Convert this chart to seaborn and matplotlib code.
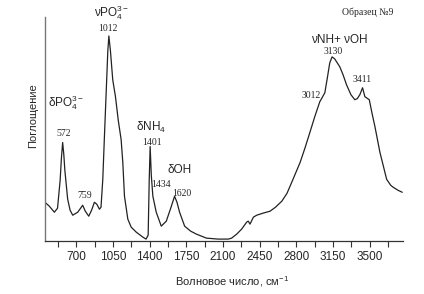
import numpy as np
import pandas as pd
import seaborn as sns
import matplotlib.pyplot as plt
from matplotlib.ticker import MultipleLocator

# IR spectrum (wavenumber, cm-1 / absorbance, arb. units)
wavenumber = [400, 442, 490, 520, 545, 557, 569, 580, 590, 617, 640, 665, 713,
              740, 760, 785, 818, 845, 872, 895, 920, 935, 952, 968, 985, 1000,
              1010, 1025, 1047, 1073, 1100, 1127, 1143, 1159, 1191, 1223, 1271,
              1334, 1365, 1385, 1395, 1404, 1415, 1430, 1462, 1510, 1558, 1600,
              1637, 1660, 1685, 1733, 1790, 1845, 1940, 2050, 2150, 2182, 2230,
              2277, 2325, 2340, 2357, 2389, 2421, 2480, 2548, 2600, 2660, 2710,
              2755, 2835, 2880, 2928, 2975, 3023, 3045, 3071, 3095, 3118, 3140,
              3165, 3214, 3245, 3278, 3320, 3357, 3380, 3405, 3431, 3453, 3495,
              3520, 3549, 3597, 3661, 3700, 3724, 3770, 3810]
absorbance = [38, 34, 28, 32, 60, 82, 98, 86, 70, 41, 30, 25, 28,
              32, 35, 29, 24, 30, 38, 36, 31, 33, 61, 105, 150, 190,
              205, 190, 161, 144, 120, 101, 78, 44, 21, 13, 8,
              3, 1, 5, 60, 94, 65, 44, 28, 14, 19, 32,
              44, 38, 28, 14, 9, 6, 2, 1, 1, 2, 6,
              11, 18, 19, 16, 23, 25, 27, 29, 33, 39, 47,
              58, 78, 92, 108, 124, 139, 143, 148, 163, 178, 184,
              182, 174, 166, 156, 146, 141, 142, 146, 153, 144, 141,
              128, 114, 88, 61, 55, 53, 50, 48]

# band labels: (text, wavenumber, absorbance)
band_names = ["νPO$_4^{3-}$", "δPO$_4^{3-}$", "δNH$_4$", "δOH", "νNH+ νOH"]
band_x = [1035, 605, 1417, 1684, 3213]
band_y = [228, 138, 113, 70, 201]
peak_names = ["1012", "572", "759", "1401", "1434", "1620", "3130", "3012", "3411"]
peak_x = [996, 576, 777, 1417, 1503, 1704, 3147, 2937, 3424]
peak_y = [213, 107, 45, 98, 56, 47, 189, 145, 161]

major_ticks = [700, 1050, 1400, 1750, 2100, 2450, 2800, 3150, 3500]

df = pd.DataFrame({"wn": wavenumber, "a": absorbance})

sns.set_style("white")
plt.rcParams["font.family"] = ["Liberation Sans", "DejaVu Sans"]
plt.rcParams["mathtext.fontset"] = "custom"
plt.rcParams["mathtext.rm"] = "Liberation Sans"
plt.rcParams["mathtext.it"] = "Liberation Sans"

fig = plt.figure(figsize=(4.24, 2.94), dpi=100)
ax = fig.add_axes([0.106, 0.180, 0.844, 0.762])

sns.lineplot(data=df, x="wn", y="a", ax=ax, color="#222222", linewidth=0.9)

ax.set_xlim(400, 3815)
ax.set_ylim(-1, 224)
ax.set_xticks(major_ticks)
ax.xaxis.set_minor_locator(MultipleLocator(175))
ax.set_yticks([])
ax.tick_params(axis="x", which="both", direction="out", bottom=True,
               length=4, width=0.8, color="#333333", labelsize=8.5, pad=3)
ax.set_xlabel("")
ax.set_ylabel("")

sns.despine(ax=ax)
ax.spines["left"].set_color("#777777")
ax.spines["bottom"].set_color("#333333")
ax.spines["left"].set_linewidth(1.0)
ax.spines["bottom"].set_linewidth(0.9)

for name, x, y in zip(band_names, band_x, band_y):
    ax.text(x, y, name, ha="center", va="center", fontsize=8.5, clip_on=False)
for name, x, y in zip(peak_names, peak_x, peak_y):
    ax.text(x, y, name, ha="center", va="center", fontsize=7,
            family=["Liberation Serif", "DejaVu Serif"], clip_on=False)

fig.text(368 / 424, 1 - 12 / 294, "Образец №9", ha="center", va="center",
         fontsize=7, family=["Liberation Serif", "DejaVu Serif"])
fig.text(232 / 424, 1 - 282 / 294, "Волновое число, см$^{-1}$", ha="center",
         va="center", fontsize=8)
fig.text(33 / 424, 1 - 116 / 294, "Поглощение", ha="center", va="center",
         rotation=90, fontsize=8)

fig.savefig("out.png", dpi=100)
